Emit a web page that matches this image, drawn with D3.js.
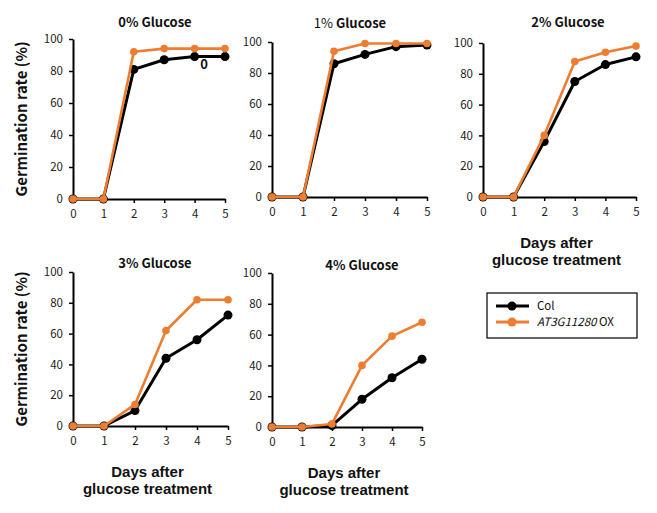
<!DOCTYPE html>
<html><head><meta charset="utf-8">
<script src="https://cdn.jsdelivr.net/npm/d3@7"></script>
<style>
body{margin:0;background:#fff;}
text{font-family:"Noto Sans CJK KR","Noto Sans",sans-serif;}
.axt{font-family:"Liberation Sans",Arial,sans-serif;}
</style></head>
<body>
<svg id="c" width="657" height="513"></svg>
<script>
const days = [0,1,2,3,4,5];
const yTicks = [0,20,40,60,80,100];
const titles = ["0% Glucose","1% Glucose","2% Glucose","3% Glucose","4% Glucose"];
const colValues = [
  [0,0,81,87,89,89],
  [0,0,86,92,97,98],
  [0,0,36,75,86,91],
  [0,0,10,44,56,72],
  [0,0,1,18,32,44]
];
const oxValues = [
  [0,0,92,94,94,94],
  [0,0,94,99,99,99],
  [0,0,40,88,94,98],
  [0,0,14,62,82,82],
  [0,0,2,40,59,68]
];
const seriesNames = ["Col","AT3G11280 OX"];
const colors = ["#000000","#ED7D31"];

// layout (pixel frames for each panel)
const frames = [
  {x0:73,x1:225,yTop:39,yBot:199,ylab:true,xlab:false,tx:155,ty:27},
  {x0:272,x1:427,yTop:42,yBot:197,ylab:false,xlab:false,tx:350,ty:28},
  {x0:483,x1:636,yTop:43,yBot:197,ylab:false,xlab:true,tx:568,ty:27},
  {x0:73,x1:228,yTop:272,yBot:426,ylab:true,xlab:true,tx:155,ty:268},
  {x0:272,x1:422,yTop:273,yBot:427,ylab:false,xlab:true,tx:362,ty:270}
];

const svg = d3.select("#c");
const fmt = d3.format("d");

frames.forEach((f,i)=>{
  const x = d3.scaleLinear().domain([0,5]).range([f.x0,f.x1]);
  const y = d3.scaleLinear().domain([0,100]).range([f.yBot,f.yTop]);
  const g = svg.append("g");

  const ya = g.append("g").attr("transform",`translate(${f.x0},0)`)
    .call(d3.axisLeft(y).tickValues(yTicks).tickFormat(fmt).tickSize(4).tickPadding(6).tickSizeOuter(0));
  const xa = g.append("g").attr("transform",`translate(0,${f.yBot})`)
    .call(d3.axisBottom(x).tickValues(days).tickFormat(fmt).tickSize(4).tickPadding(7).tickSizeOuter(0));
  [ya,xa].forEach(a=>{
    a.select(".domain").attr("stroke","#000").attr("stroke-width",2);
    a.selectAll(".tick line").attr("stroke","#000").attr("stroke-width",1.5);
    a.selectAll("text").attr("fill","#222").style("font-size","11.5px");
  });

  // title
  const parts = titles[i].split(" ");
  const t = g.append("text").attr("x",f.tx).attr("y",f.ty).attr("text-anchor","middle")
    .style("font-size","13px").attr("fill","#111");
  t.append("tspan").text(parts[0]+" ").style("font-weight", i===1 ? "normal" : "bold");
  t.append("tspan").text(parts[1]).style("font-weight","bold");

  const line = d3.line().x((d,j)=>x(days[j])).y(d=>y(d));
  [colValues[i], oxValues[i]].forEach((vals,s)=>{
    g.append("path").datum(vals).attr("d",line).attr("fill","none")
      .attr("stroke",colors[s]).attr("stroke-width",s===0?3:2.6).attr("stroke-linejoin","round");
    g.selectAll(null).data(vals).enter().append("circle")
      .attr("cx",(d,j)=>x(days[j])).attr("cy",d=>y(d))
      .attr("r",s===0?4.5:3.8).attr("fill",colors[s]);
  });

  if(f.ylab){
    g.append("text").attr("transform",`translate(27,${(f.yTop+f.yBot)/2}) rotate(-90)`)
      .attr("text-anchor","middle").style("font-size","15px").style("font-weight","bold")
      .attr("fill","#111").text("Germination rate (%)");
  }
  if(f.xlab){
    const cx = (f.x0+f.x1)/2 - 3;
    g.append("text").attr("class","axt").attr("x",cx).attr("y",f.yBot+51).attr("text-anchor","middle")
      .style("font-size","15px").style("font-weight","bold").attr("fill","#111").text("Days after");
    g.append("text").attr("class","axt").attr("x",cx).attr("y",f.yBot+68).attr("text-anchor","middle")
      .style("font-size","15px").style("font-weight","bold").attr("fill","#111").text("glucose treatment");
  }
});

// stray data label in first panel
svg.append("text").attr("x",204).attr("y",69).attr("text-anchor","middle")
  .style("font-size","13px").style("font-weight","bold").attr("fill","#111").text("0");

// legend
const lg = svg.append("g");
lg.append("rect").attr("x",487).attr("y",293).attr("width",150).attr("height",45)
  .attr("fill","#fff").attr("stroke","#000").attr("stroke-width",1.2);
seriesNames.forEach((n,s)=>{
  const yy = 306 + s*16;
  lg.append("line").attr("x1",496).attr("x2",529).attr("y1",yy).attr("y2",yy)
    .attr("stroke",colors[s]).attr("stroke-width",3);
  lg.append("circle").attr("cx",512).attr("cy",yy).attr("r",4.5).attr("fill",colors[s]);
  const t = lg.append("text").attr("x",537).attr("y",yy+4).style("font-size","11.5px").attr("fill","#111");
  if(s===0){ t.text(n); }
  else {
    const p = n.split(" ");
    t.append("tspan").text(p[0]).style("font-style","italic");
    t.append("tspan").text("\u00a0"+p[1]);
  }
});
</script>
</body></html>
